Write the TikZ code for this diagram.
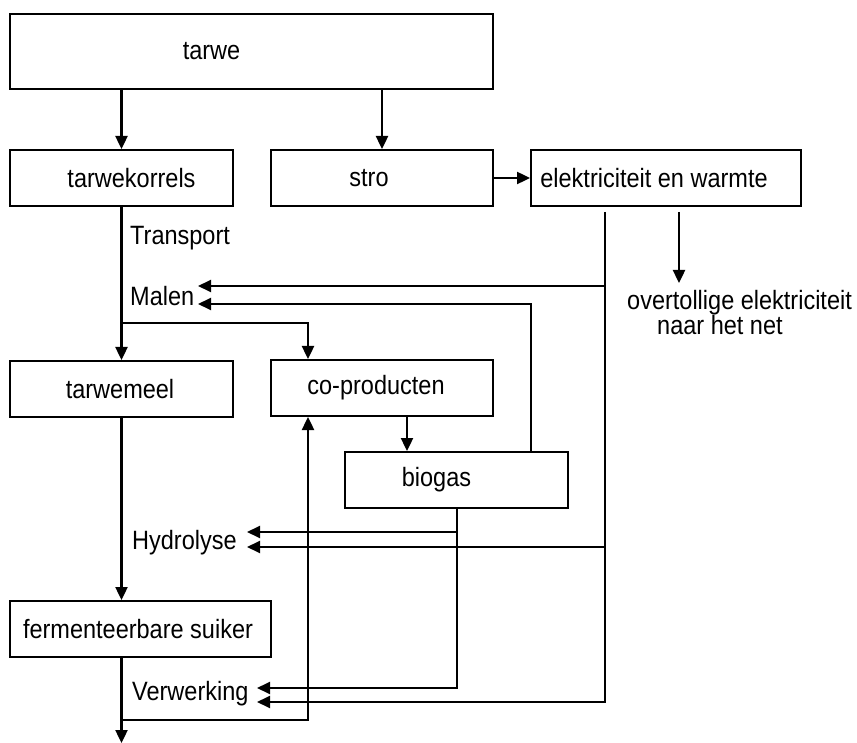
\documentclass[tikz,border=0pt]{standalone}
\usepackage{fontspec}
\setmainfont{Liberation Sans}[FakeStretch=0.887]
\usetikzlibrary{arrows.meta}

\begin{document}
\begin{tikzpicture}[x=1pt,y=-1pt,>={Triangle[length=13pt,width=12pt]},
        font=\fontsize{26.5}{25}\selectfont,
        box/.style={draw,line width=2pt,inner sep=0pt},
        stap/.style={anchor=base west,inner sep=0pt},
        flow/.style={->,line width=2.4pt},
        feed/.style={->,line width=1.9pt}]
        \useasboundingbox (0,0) rectangle (857,743);

        % draw the boxes
        \node[box,minimum width=483pt,minimum height=75pt,label={[xshift=-40pt]center:tarwe}] (tarwe) at (251.5,51.5) {};
        \node[box,minimum width=223pt,minimum height=56pt,label={[xshift=10pt]center:tarwekorrels}] (korrels) at (121.5,178) {};
        \node[box,minimum width=222pt,minimum height=56pt,label={[xshift=-13pt]center:stro}] (stro) at (382,178) {};
        \node[box,minimum width=270pt,minimum height=56pt,label={[xshift=-12pt]center:elektriciteit en warmte}] (elek) at (666,178) {};
        \node[box,minimum width=223pt,minimum height=56pt,label={[xshift=-1.5pt]center:tarwemeel}] (meel) at (121.5,389) {};
        \node[box,minimum width=222pt,minimum height=56pt,label={[xshift=-6pt]center:co-producten}] (copr) at (382,388) {};
        \node[box,minimum width=223pt,minimum height=56pt,label={[xshift=-20pt]center:biogas}] (biogas) at (456.5,480) {};
        \node[box,minimum width=261pt,minimum height=56pt,label={[xshift=-2.5pt]center:fermenteerbare suiker}] (ferm) at (140.5,629) {};

        % the steps along the main line
        \node[stap] (transport) at (130,245) {Transport};
        \node[stap] (malen) at (130,306) {Malen};
        \node[stap] (hydro) at (132,549) {Hydrolyse};
        \node[stap] (verw) at (132,700) {Verwerking};
        \node[anchor=north west,align=left,inner sep=0pt] (net) at (627,290)
                {overtollige elektriciteit\\\hspace*{30pt}naar het net};

        % free ends of the arrows
        \coordinate (malenA) at (198,286);
        \coordinate (malenB) at (198,304);
        \coordinate (hydroA) at (247,532);
        \coordinate (hydroB) at (247,547);
        \coordinate (verwA) at (257,688);
        \coordinate (verwB) at (257,702);
        \coordinate (split) at (121.5,323);
        \coordinate (join) at (121.5,720);
        \coordinate (uit) at (121.5,743);
        \coordinate (efeed) at ([xshift=-61pt,yshift=-5pt]elek.south);
        \coordinate (netarrow) at ([xshift=13pt,yshift=-5pt]elek.south);
        \coordinate (nettop) at ([yshift=7pt]net.north);
        \coordinate (btop) at ([xshift=74.5pt]biogas.north);
        \coordinate (bbot) at ([xshift=0.5pt]biogas.south);

        % draw the main line
        \draw[flow] (tarwe.south -| korrels) -- (korrels);
        \draw[flow] (tarwe.south -| stro) -- (stro);
        \draw[flow] (stro) -- (elek);
        \draw[flow] (korrels) -- (meel);
        \draw[flow] (split) -| ([xshift=-74pt]copr.north);
        \draw[flow] (meel) -- (meel |- ferm.north);
        \draw[flow] (ferm.south -| meel) -- (uit);
        \draw[flow] (join) -| ([xshift=-74pt]copr.south);
        \draw[flow] ([xshift=25pt]copr.south) -- ([xshift=-49.5pt]biogas.north);

        % draw the energy going back
        \draw[flow] (netarrow) -- (netarrow |- nettop);
        \draw[feed] (efeed) |- (verwB);
        \draw[feed] (efeed |- malenA) -- (malenA);
        \draw[feed] (efeed |- hydroB) -- (hydroB);
        \draw[feed] (btop) |- (malenB);
        \draw[feed] (bbot) |- (verwA);
        \draw[feed] (bbot |- hydroA) -- (hydroA);
\end{tikzpicture}
\end{document}
